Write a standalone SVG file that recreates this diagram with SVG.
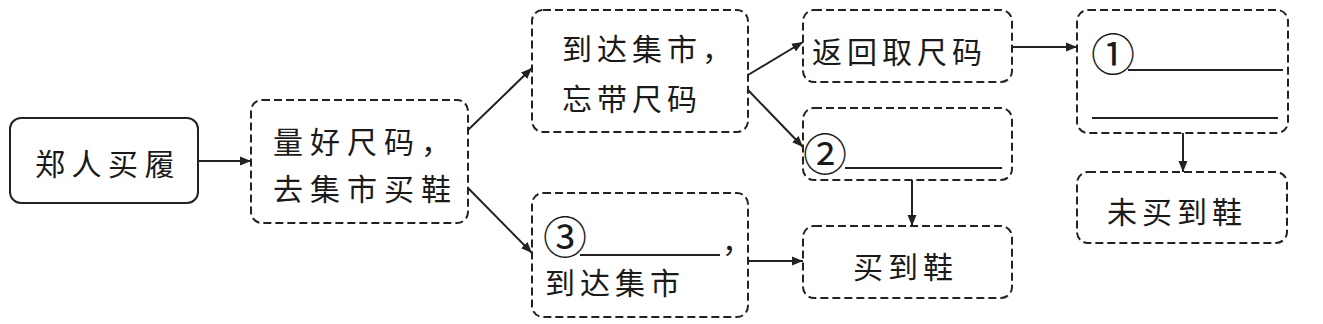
<svg xmlns="http://www.w3.org/2000/svg" width="1323" height="324" viewBox="0 0 1323 324">
<style>
.box{fill:none;stroke:#222;stroke-width:2;stroke-dasharray:8 4}
.solid{fill:none;stroke:#222;stroke-width:2}
.t{font-family:"Noto Sans CJK SC","Noto Sans CJK JP",sans-serif;font-size:30px;fill:#1a1a1a;letter-spacing:5px}
.c{font-family:"Noto Sans CJK SC",sans-serif;font-size:44px;fill:#1a1a1a}
.u{stroke:#222;stroke-width:2}
.conn{stroke:#222;stroke-width:2;fill:none;marker-end:url(#ah)}
</style>
<defs>
<marker id="ah" markerUnits="userSpaceOnUse" markerWidth="12" markerHeight="10" refX="11" refY="5" orient="auto">
<path d="M0,0.5 L11,5 L0,9.5 Z" fill="#222"/>
</marker>
</defs>
<rect width="1323" height="324" fill="#fff"/>
<g id="n1"><rect class="solid" x="10" y="118" width="188" height="85" rx="11"/><text class="t" x="35" y="175" style="letter-spacing:6.5px">郑人买履</text></g>
<g id="n2"><rect class="box" x="251" y="100" width="217" height="123" rx="11"/><text class="t" x="273" y="153" style="letter-spacing:7px">量好尺码，</text><text class="t" x="273" y="200" style="letter-spacing:7px">去集市买鞋</text></g>
<g id="n3"><rect class="box" x="532" y="10" width="216" height="122" rx="11"/><text class="t" x="562" y="60">到达集市，</text><text class="t" x="562" y="110">忘带尺码</text></g>
<g id="n4"><rect class="box" x="532" y="193" width="216" height="124" rx="11"/><text class="c" x="543" y="254">③</text><line class="u" x1="580" y1="255" x2="720" y2="255"/><text class="t" x="722" y="252">，</text><text class="t" x="545" y="294">到达集市</text></g>
<g id="n5"><rect class="box" x="803" y="10" width="209" height="72" rx="11"/><text class="t" x="812" y="63">返回取尺码</text></g>
<g id="n6"><rect class="box" x="803" y="108" width="209" height="72" rx="11"/><text class="c" x="803" y="171">②</text><line class="u" x1="845" y1="168" x2="1002" y2="168"/></g>
<g id="n7"><rect class="box" x="803" y="226" width="209" height="72" rx="11"/><text class="t" x="853" y="278">买到鞋</text></g>
<g id="n8"><rect class="box" x="1077" y="10" width="211" height="123" rx="11"/><text class="c" x="1091" y="71">①</text><line class="u" x1="1128" y1="70" x2="1283" y2="70"/><line class="u" x1="1092" y1="118" x2="1278" y2="118"/></g>
<g id="n9"><rect class="box" x="1077" y="172" width="210" height="71" rx="11"/><text class="t" x="1107" y="223">未买到鞋</text></g>
<g id="connectors">
<line class="conn" x1="198" y1="161" x2="251" y2="161"/>
<line class="conn" x1="468" y1="130" x2="532" y2="68"/>
<line class="conn" x1="468" y1="188" x2="532" y2="253"/>
<line class="conn" x1="748" y1="75" x2="803" y2="42"/>
<line class="conn" x1="748" y1="90" x2="803" y2="147"/>
<line class="conn" x1="748" y1="261" x2="803" y2="261"/>
<line class="conn" x1="1012" y1="47" x2="1077" y2="47"/>
<line class="conn" x1="912" y1="180" x2="912" y2="226"/>
<line class="conn" x1="1183" y1="133" x2="1183" y2="172"/>
</g>
</svg>
